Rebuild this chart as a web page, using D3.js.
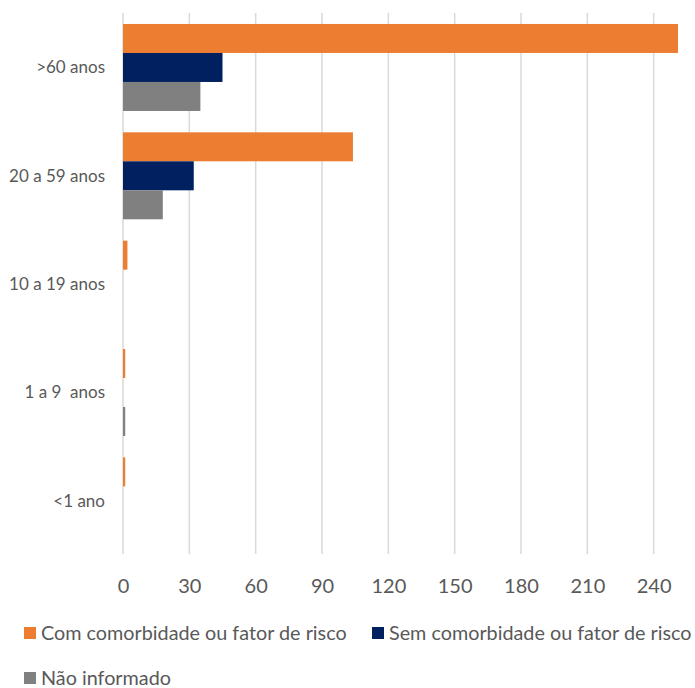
<!DOCTYPE html>
<html>
<head>
<meta charset="utf-8">
<script src="https://cdn.jsdelivr.net/npm/d3@7"></script>
<style>
  body { margin: 0; background: #fff; }
  text { font-family: Lato, "Open Sans", sans-serif; fill: #595959; }
</style>
</head>
<body>
<script>
// data
var categories = [">60 anos", "20 a 59 anos", "10 a 19 anos", "1 a 9  anos", "<1 ano"];
var seriesNames = ["Com comorbidade ou fator de risco", "Sem comorbidade ou fator de risco", "Não informado"];
var comRisco = [251, 104, 2, 1, 1];
var semRisco = [45, 32, 0, 0, 0];
var naoInformado = [35, 18, 0, 1, 0];
var tickVals = [0, 30, 60, 90, 120, 150, 180, 210, 240];
var colors = ["#ED7D31", "#002060", "#808080"];

var series = [comRisco, semRisco, naoInformado];

var svg = d3.select("body").append("svg").attr("width", 695).attr("height", 688);

// x axis runs past the right edge, like the cropped original
var x = d3.scaleLinear().domain([0, 270]).range([123, 720]);
var y = d3.scaleBand().domain(categories).range([13.3, 555]).paddingInner(0.197).paddingOuter(0.0985);
var ySub = d3.scaleBand().domain([0, 1, 2]).range([0, y.bandwidth()]);

// gridlines
svg.selectAll("line.grid")
    .data(tickVals)
    .enter().append("line")
    .attr("class", "grid")
    .attr("x1", function(d) { return x(d); })
    .attr("x2", function(d) { return x(d); })
    .attr("y1", 13)
    .attr("y2", 554)
    .attr("stroke", "#d9d9d9")
    .attr("stroke-width", 1.5);

// bars
var groups = svg.selectAll("g.cat")
    .data(categories)
    .enter().append("g")
    .attr("class", "cat")
    .attr("transform", function(d) { return "translate(0," + y(d) + ")"; });

groups.each(function(cat, i) {
    d3.select(this).selectAll("rect")
        .data(series.map(function(s, j) { return {j: j, v: s[i]}; }))
        .enter().append("rect")
        .attr("x", x(0))
        .attr("y", function(d) { return ySub(d.j); })
        .attr("width", function(d) { return x(d.v) - x(0); })
        .attr("height", ySub.bandwidth())
        .attr("fill", function(d) { return colors[d.j]; });
});

// category labels
svg.selectAll("text.cat")
    .data(categories)
    .enter().append("text")
    .attr("class", "cat")
    .attr("x", 105)
    .attr("y", function(d) { return y(d) + y.bandwidth() / 2; })
    .attr("dy", "0.35em")
    .style("text-anchor", "end")
    .style("font-size", "17px")
    .style("white-space", "pre")
    .text(function(d) { return d; });

// x axis tick labels
var xAxis = d3.axisBottom(x).tickValues(tickVals).tickSize(0).tickPadding(0);
var ax = svg.append("g").attr("transform", "translate(0,579)").call(xAxis);
ax.select(".domain").remove();
ax.selectAll("text")
    .attr("dy", "0.35em")
    .attr("y", 7)
    .style("font-size", "20px")
    .style("font-family", "Lato, 'Open Sans', sans-serif")
    .attr("fill", "#595959");

// legend
var legendPos = [[24, 633], [372, 633], [24, 678]];
var legend = svg.selectAll("g.legend")
    .data(seriesNames)
    .enter().append("g")
    .attr("class", "legend")
    .attr("transform", function(d, i) { return "translate(" + legendPos[i][0] + "," + legendPos[i][1] + ")"; });

legend.append("rect")
    .attr("x", 0)
    .attr("y", -6)
    .attr("width", 12)
    .attr("height", 12)
    .attr("fill", function(d, i) { return colors[i]; });

legend.append("text")
    .attr("x", 17)
    .attr("y", 0)
    .attr("dy", "0.35em")
    .style("font-size", "19.8px")
    .text(function(d) { return d; });
</script>
</body>
</html>
